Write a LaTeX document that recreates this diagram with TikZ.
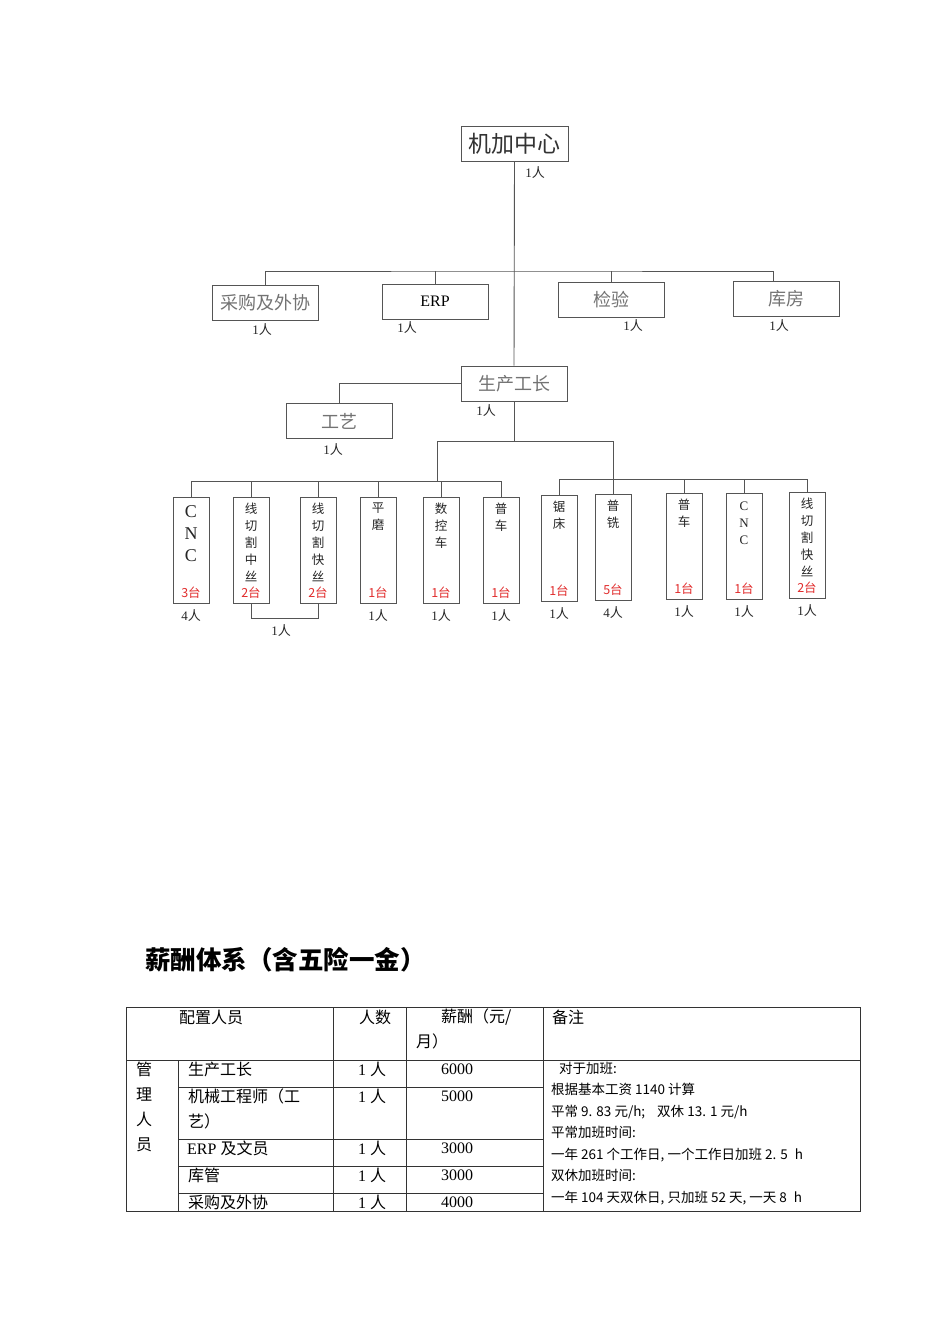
\documentclass[tikz,border=0pt]{standalone}
\usepackage{fontspec}
\setmainfont{Liberation Serif}
\newfontfamily\cjk{Noto Sans CJK SC}
\usetikzlibrary{positioning,calc}
\definecolor{FrameGray}{RGB}{85,85,85}
\definecolor{LabelGray}{RGB}{115,115,115}
\definecolor{CountRed}{RGB}{225,45,45}
\newcommand\ppl[1]{#1{\cjk 人}}

\begin{document}
\begin{tikzpicture}[x=1pt,y=-1pt,
    link/.style={draw=FrameGray, line width=0.9pt},
    dept/.style={draw=FrameGray, line width=1pt, minimum width=106pt, minimum height=35pt, inner sep=0pt, text=LabelGray, font=\cjk\fontsize{18}{20}\selectfont},
    machine/.style={draw=FrameGray, line width=1pt, minimum width=36pt, minimum height=106pt, inner sep=0pt},
    machtext/.style={anchor=north, yshift=-6pt, inner sep=0pt, align=center, text=black!85, font=\cjk\fontsize{12.5}{17}\selectfont},
    cncbig/.style={yshift=-2pt, font=\rmfamily\fontsize{18}{22}\selectfont},
    cncsmall/.style={yshift=-3pt, font=\rmfamily\fontsize{13}{17}\selectfont},
    tally/.style={inner sep=0pt, text=CountRed, font=\cjk\fontsize{12.5}{14}\selectfont},
    staff/.style={inner sep=0pt, text=black!85, font=\fontsize{13}{15}\selectfont},
    rule/.style={draw=black!80, line width=0.9pt},
    cell/.style={inner sep=0pt, anchor=west, font=\cjk\fontsize{16}{20}\selectfont},
    num/.style={inner sep=0pt, anchor=west, font=\fontsize{16}{20}\selectfont}]
\useasboundingbox[fill=white] (0,0) rectangle (950,1344);

% organisation chart
\node[dept, minimum width=107pt, text=black!80, font=\cjk\fontsize{23}{25}\selectfont] (center) at (514.5,143.5) {机加中心};
\node[dept] (caigou) at (265,303) {采购及外协};
\node[dept, text=black, font=\fontsize{16}{18}\selectfont] (erp) at (435,301.5) {ERP};
\node[dept] (jianyan) at (611,299.5) {检验};
\node[dept] (kufang) at (786,299) {库房};
\node[dept] (prod) at (514,383.5) {生产工长};
\node[dept] (gongyi) at (339,421) {工艺};

\node[staff] (s0) at (535,173) {\ppl1};
\node[staff] (s1) at (262,330) {\ppl1};
\node[staff] (s2) at (407,328) {\ppl1};
\node[staff] (s3) at (633,326) {\ppl1};
\node[staff] (s4) at (779,326) {\ppl1};
\node[staff] (s5) at (486,411) {\ppl1};
\node[staff] (s6) at (333,450) {\ppl1};

\coordinate (busT) at (514,271);
\draw[link] (center.south) -- (prod.north);
\draw[link] (caigou.north) |- (busT) -| ([xshift=-13pt]kufang.north);
\draw[link] (erp.north) -- (erp.north |- busT);
\draw[link] (jianyan.north) -- (jianyan.north |- busT);
\draw[link] (prod.west) -| (gongyi.north);

% machine groups
\foreach \i/\x/\yt/\st/\txt/\cnt in {
    1/191/497/cncbig/{C\\N\\C}/3,
    2/251/497/{}/{线\\切\\割\\中\\丝}/2,
    3/318/497/{}/{线\\切\\割\\快\\丝}/2,
    4/378/497/{}/{平\\磨}/1,
    5/441/497/{}/{数\\控\\车}/1,
    6/501/497/{}/{普\\车}/1,
    7/559/495/{}/{锯\\床}/1,
    8/613/494/{}/{普\\铣}/5,
    9/684/493/{}/{普\\车}/1,
    10/744/493/cncsmall/{C\\N\\C}/1,
    11/807/492/{}/{线\\切\\割\\快\\丝}/2}
{
  \node[machine, anchor=north] (m\i) at (\x,\yt) {};
  \node[machtext, \st] (t\i) at (m\i.north) {\txt};
  \node[tally] (c\i) at ([yshift=11pt]m\i.south) {\cnt 台};
}
\foreach \i/\n in {1/4, 4/1, 5/1, 6/1, 7/1, 8/4, 9/1, 10/1, 11/1}
  \node[staff] (p\i) at ([yshift=-12pt]m\i.south) {\ppl{\n}};

\coordinate (split) at ([yshift=-40pt]prod.south);
\coordinate (busL) at (437,481);
\coordinate (busR) at (611,479);
\draw[link] (prod.south) -- (split);
\draw[link] (busL) |- (split) -| (m8.north);
\draw[link] (m1.north) |- (m6.north |- busL) -- (m6.north);
\foreach \i in {2,...,5}
  \draw[link] (m\i.north) -- (m\i.north |- busL);
\draw[link] (m7.north) |- (m11.north |- busR) -- (m11.north);
\foreach \i in {9,10}
  \draw[link] (m\i.north) -- (m\i.north |- busR);
\draw[link] (m2.south) -- ++(0,14) -| (m3.south);
\node[staff] (p23) at (281,631) {\ppl1};

% salary table
\node[inner sep=0pt, anchor=west, font=\cjk\bfseries\fontsize{25.5}{28}\selectfont] (title) at (145,960) {薪酬体系（含五险一金）};

\draw[rule] (126,1007) rectangle (860,1211);
\draw[rule] (126,1060) -- (860,1060);
\foreach \x in {333,406,543}
  \draw[rule] (\x,1007) -- (\x,1211);
\draw[rule] (178,1060) -- (178,1211);
\foreach \y in {1087,1139,1166,1193}
  \draw[rule] (178,\y) -- (543,\y);

\node[cell] (h1) at (179,1017) {配置人员};
\node[cell] (h2) at (359,1017) {人数};
\node[cell] (h3) at (441,1017) {薪酬（元/};
\node[cell] (h3b) at (416,1041) {月）};
\node[cell] (h4) at (552,1017) {备注};
\node[cell, anchor=north, align=center, font=\cjk\fontsize{16}{25}\selectfont] (mgr) at (144,1062) {管\\理\\人\\员};

\node[cell] (r1) at (188,1069) {生产工长};
\node[cell] (r2) at (188,1096) {机械工程师（工};
\node[cell] (r2b) at (188,1121) {艺）};
\node[cell] (r3) at (187,1148) {\rmfamily ERP {\cjk 及文员}};
\node[cell] (r4) at (188,1175) {库管};
\node[cell] (r5) at (188,1202) {采购及外协};

\foreach \y/\pay [count=\k] in {1069/6000, 1096/5000, 1148/3000, 1175/3000, 1202/4000} {
  \node[num] (n\k) at (358,\y) {1 {\cjk 人}};
  \node[num] (w\k) at (441,\y) {\pay};
}

\node[inner sep=0pt, anchor=north west, align=left, font=\cjk\fontsize{13.5}{21.5}\selectfont] (remark) at (551,1061.5) {\hspace*{8pt}对于加班:\\
根据基本工资 1140 计算\\
平常 9. 83 元/h;\hspace{12pt}双休 13. 1 元/h\\
平常加班时间:\\
一年 261 个工作日, 一个工作日加班 2. 5\hspace{4pt} h\\
双休加班时间:\\
一年 104 天双休日, 只加班 52 天, 一天 8\hspace{4pt} h};
\end{tikzpicture}
\end{document}
